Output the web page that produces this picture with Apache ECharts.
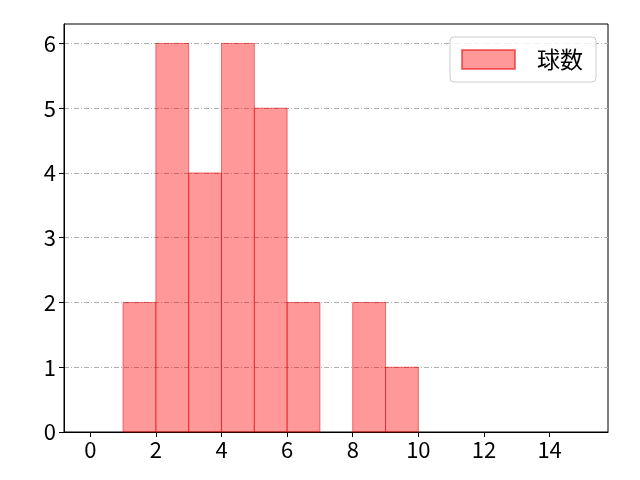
<!DOCTYPE html>
<html><head><meta charset="utf-8">
<script src="https://cdn.jsdelivr.net/npm/echarts@6/dist/echarts.min.js"></script>
<style>html,body{margin:0;padding:0;background:#fff}#c{width:640px;height:480px}</style>
</head><body><div id="c"></div>
<script>
const binStarts = [1, 2, 3, 4, 5, 6, 7, 8, 9];
const binEnds   = [2, 3, 4, 5, 6, 7, 8, 9, 10];
const counts    = [2, 6, 4, 6, 5, 2, 0, 2, 1];
const xTicks = [0, 2, 4, 6, 8, 10, 12, 14];
const yTicks = [0, 1, 2, 3, 4, 5, 6];
const seriesName = '球数';

const data = binStarts.map((s, i) => [s, binEnds[i], counts[i]]);
const font = '"Noto Sans CJK JP", "DejaVu Sans", sans-serif';
const chart = echarts.init(document.getElementById('c'), null, {renderer: 'canvas'});
chart.setOption({
  animation: false,
  backgroundColor: '#fff',
  grid: {left: 64, right: 32, top: 24, bottom: 48, show: true, borderColor: '#000', borderWidth: 1, backgroundColor: 'transparent'},
  legend: {
    right: 44, top: 37,
    itemWidth: 53, itemHeight: 19, itemGap: 10,
    padding: [11, 13, 11, 11],
    borderColor: '#cccccc', borderWidth: 1, borderRadius: 4,
    backgroundColor: 'rgba(255,255,255,0.8)',
    textStyle: {fontFamily: font, fontSize: 23, color: '#000', padding: [0, 0, 0, 17]},
    data: [{name: seriesName, icon: 'rect'}]
  },
  xAxis: {
    type: 'value', min: -0.8, max: 15.78,
    splitLine: {show: false},
    axisLine: {show: true, onZero: false, lineStyle: {color: '#000', width: 1}},
    axisTick: {show: true, length: 5, customValues: xTicks, lineStyle: {color: '#000'}},
    axisLabel: {customValues: xTicks, fontFamily: font, fontSize: 22, color: '#000', margin: 7}
  },
  yAxis: {
    type: 'value', min: 0, max: 6.3,
    axisLine: {show: true, onZero: false, lineStyle: {color: '#000', width: 1}},
    axisTick: {show: true, length: 5, customValues: yTicks, lineStyle: {color: '#000'}},
    axisLabel: {customValues: yTicks, fontFamily: font, fontSize: 22, color: '#000', margin: 8},
    splitLine: {show: true, customValues: yTicks, lineStyle: {color: '#b0b0b0', width: 1, type: [5, 2, 1, 2]}}
  },
  series: [{
    name: seriesName,
    type: 'custom',
    itemStyle: {color: 'rgba(255,0,0,0.4)', borderColor: 'rgba(230,0,0,0.5)', borderWidth: 1},
    renderItem: function (params, api) {
      if (api.value(2) === 0) return null;
      const p0 = api.coord([api.value(0), api.value(2)]);
      const p1 = api.coord([api.value(1), 0]);
      return {
        type: 'rect',
        shape: {x: p0[0], y: p0[1], width: p1[0] - p0[0], height: p1[1] - p0[1]},
        style: {fill: 'rgba(255,0,0,0.4)', stroke: 'rgba(230,0,0,0.5)', lineWidth: 1}
      };
    },
    encode: {x: [0, 1], y: 2},
    data: data
  }]
});
</script></body></html>
